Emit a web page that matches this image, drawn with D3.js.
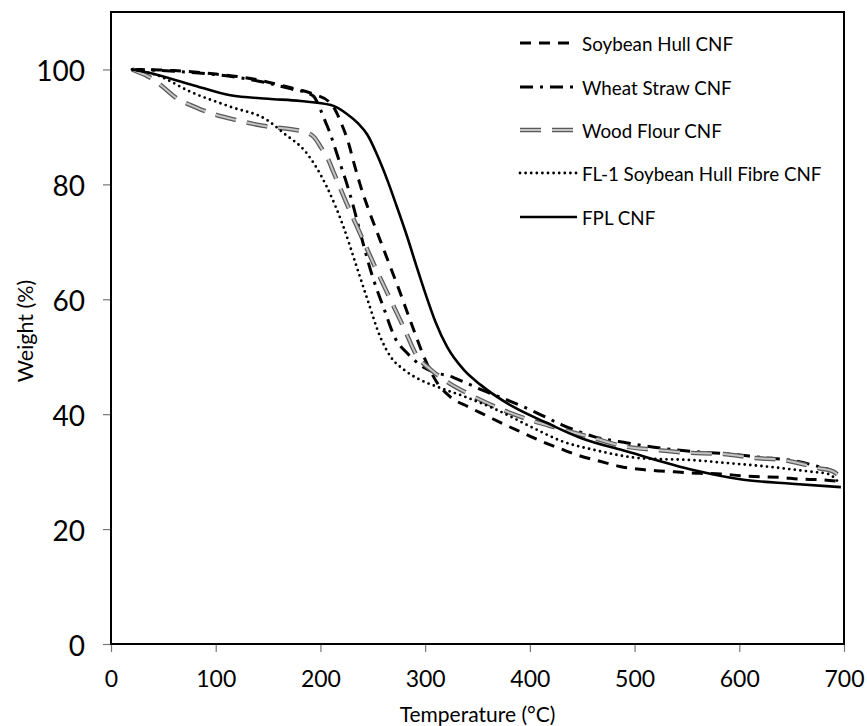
<!DOCTYPE html>
<html>
<head>
<meta charset="utf-8">
<script src="https://cdn.jsdelivr.net/npm/d3@7"></script>
<style>
  html, body { margin: 0; padding: 0; background: #fff; }
  svg { display: block; }
  text { font-family: Lato, "Open Sans", sans-serif; fill: #000; }
</style>
</head>
<body>
<svg id="chart" width="867" height="726"></svg>
<script>
// ---- Data (Temperature °C, Weight %) ----
const soybeanHull = [[20,100],[60,99.8],[100,99.2],[140,98.2],[170,96.9],[195,95.6],[208,94.4],[214,93],[220,90.6],[227,87.1],[232,83.7],[238,79.9],[245,76.1],[257,70.3],[266,66],[274,62.2],[281,58.7],[290,54.2],[300,49.5],[311,45.6],[324,43.0],[341,41.3],[359,39.7],[377,38.1],[394,36.7],[412,35.2],[429,34.0],[445,32.9],[467,31.8],[486,30.9],[505,30.4],[525,30.1],[544,29.9],[563,29.7],[582,29.6],[601,29.3],[620,29.1],[639,29.0],[658,28.7],[677,28.6],[695,28.3]];
const wheatStraw = [[20,100],[60,99.7],[100,99.1],[140,98.0],[170,96.7],[193,95.4],[200,93.0],[205,90.8],[209,89.0],[214,86.3],[219,83.5],[224,80.8],[231,76.5],[238,71.6],[250,63.8],[260,58.7],[272,53.0],[283,50.6],[298,48.2],[310,47.2],[322,46.7],[336,45.7],[357,44.0],[378,42.5],[407,40.2],[430,38.2],[461,36.1],[493,35.0],[525,34.1],[556,33.5],[588,33.1],[620,32.5],[652,31.9],[677,30.8],[690,30.0],[697,28.8]];
const woodFlour = [[20,100],[33,99.0],[42,98.1],[50,96.9],[66,94.6],[76,93.8],[95,92.4],[115,91.4],[145,90.2],[175,89.5],[186,89.1],[194,88.2],[201,86.3],[207,84.5],[213,81.9],[225,76.7],[238,71.4],[252,65.7],[267,59.9],[280,54.9],[292,50.2],[305,47.8],[318,46.0],[345,43.2],[372,40.9],[400,39.0],[426,37.6],[460,35.9],[490,34.4],[518,33.8],[550,33.3],[582,33.1],[614,32.4],[646,31.9],[676,30.6],[690,30.0],[697,28.8]];
const fl1SoybeanHullFibre = [[20,100],[44,99.0],[76,96.1],[114,93.5],[149,91.2],[165,88.9],[187,85.4],[206,79.6],[222,72.6],[234,66.0],[245,59.9],[257,53.5],[267,50.0],[280,47.7],[295,46.0],[311,44.8],[337,43.1],[369,40.7],[401,37.8],[432,35.2],[461,33.8],[508,32.3],[556,32.0],[588,31.5],[620,31.0],[668,30.0],[685,29.6],[694,28.3]];
const fplCNF = [[20,100],[34,99.5],[76,97.4],[114,95.5],[150,94.9],[181,94.5],[210,93.8],[225,92.3],[236,90.6],[245,88.6],[254,85.2],[264,80.7],[273,76.1],[283,70.8],[292,65.6],[301,60.6],[310,56.0],[321,51.7],[337,47.7],[353,45.1],[384,41.3],[416,38.5],[448,35.9],[493,33.5],[556,30.3],[604,28.6],[650,27.9],[697,27.3]];

const seriesNames = ["Soybean Hull CNF", "Wheat Straw CNF", "Wood Flour CNF", "FL-1 Soybean Hull Fibre CNF", "FPL CNF"];
const xTicks = [0,100,200,300,400,500,600,700];
const yTicks = [0,20,40,60,80,100];
const xTitle = "Temperature (°C)";
const yTitle = "Weight (%)";

// ---- Layout ----
const svg = d3.select("#chart");
const L = 111, R = 844, T = 12, B = 644;
const x = d3.scaleLinear().domain([0,700]).range([L,R]);
const y = d3.scaleLinear().domain([0,110]).range([B,T]);

const styles = [
  {data: soybeanHull, layers: [{stroke:"#000", width:3, dash:"11,8", cap:"butt"}]},
  {data: wheatStraw, layers: [{stroke:"#000", width:3, dash:"13,7,3,7", cap:"butt"}]},
  {data: woodFlour, layers: [{stroke:"#5a5a5a", width:4.5, dash:"21,11", cap:"butt"},{stroke:"#c4c4c4", width:2, dash:"21,11", cap:"butt"}]},
  {data: fl1SoybeanHullFibre, layers: [{stroke:"#000", width:2.8, dash:"0,5.6", cap:"round"}]},
  {data: fplCNF, layers: [{stroke:"#000", width:2.6, dash:null, cap:"butt"}]}
];

// axes
const yAxis = d3.axisLeft(y).tickValues(yTicks).tickSize(8).tickSizeOuter(0).tickPadding(18).tickFormat(d3.format("d"));
const gy = svg.append("g").attr("transform", `translate(${L},0)`).call(yAxis);
gy.select(".domain").remove();
gy.selectAll(".tick line").attr("stroke", "#777").attr("stroke-width", 1.2);
gy.selectAll(".tick text").attr("dy", null).attr("dominant-baseline", "central")
  .style("font-size", "28px").style("font-family", "Lato, 'Open Sans', sans-serif").attr("fill", "#000");

const xAxis = d3.axisBottom(x).tickValues(xTicks).tickSize(8).tickSizeOuter(0).tickFormat(d3.format("d"));
const gx = svg.append("g").attr("transform", `translate(0,${B})`).call(xAxis);
gx.select(".domain").remove();
gx.selectAll(".tick line").attr("stroke", "#777").attr("stroke-width", 1.2);
gx.selectAll(".tick text").attr("dy", null).attr("y", 34).attr("dominant-baseline", "central")
  .style("font-size", "23px").style("font-family", "Lato, 'Open Sans', sans-serif").attr("fill", "#000");

// lines
const line = d3.line().x(d => x(d[0])).y(d => y(d[1])).curve(d3.curveMonotoneX);
const gl = svg.append("g");
styles.forEach(s => {
  s.layers.forEach(l => {
    gl.append("path").datum(s.data).attr("d", line)
      .attr("fill", "none").attr("stroke", l.stroke).attr("stroke-width", l.width)
      .attr("stroke-dasharray", l.dash).attr("stroke-linecap", l.cap).attr("stroke-linejoin", "round");
  });
});

// frame
svg.append("rect").attr("x", L).attr("y", T).attr("width", R-L).attr("height", B-T)
  .attr("fill", "none").attr("stroke", "#000").attr("stroke-width", 2);

// legend
const legY = [43, 87, 130, 173, 217];
const lg = svg.append("g");
styles.forEach((s, i) => {
  s.layers.forEach(l => {
    lg.append("line").attr("x1", 520).attr("x2", 577).attr("y1", legY[i]).attr("y2", legY[i])
      .attr("stroke", l.stroke).attr("stroke-width", l.width)
      .attr("stroke-dasharray", l.dash).attr("stroke-linecap", l.cap);
  });
  lg.append("text").attr("x", 582).attr("y", legY[i]).attr("dominant-baseline", "central")
    .style("font-size", "18.8px").text(seriesNames[i]);
});

// titles
svg.append("text").attr("x", (L+R)/2).attr("y", 713).attr("text-anchor", "middle")
  .attr("dominant-baseline", "central").style("font-size", "21px").text(xTitle);
svg.append("text").attr("transform", `translate(25,${(T+B)/2 + 3}) rotate(-90)`).attr("text-anchor", "middle")
  .attr("dominant-baseline", "central").style("font-size", "21.5px").text(yTitle);
</script>
</body>
</html>
